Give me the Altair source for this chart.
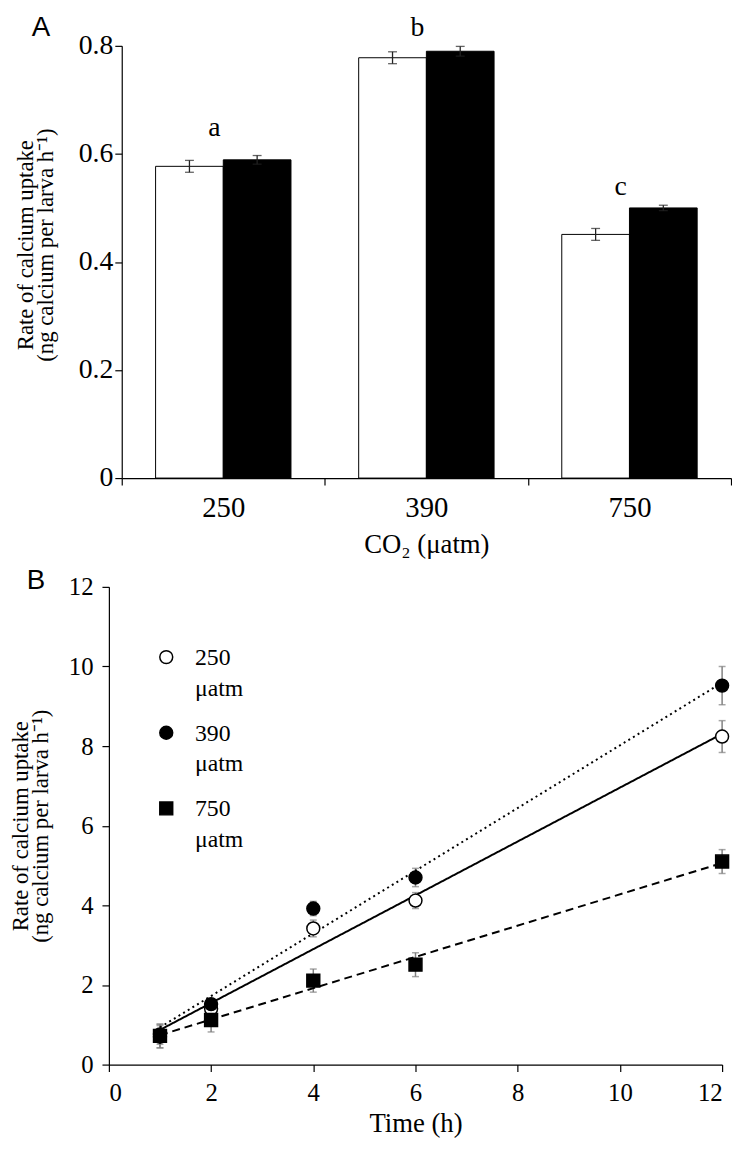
import altair as alt
import pandas as pd

SERIF = "Liberation Serif"
SANS = "Liberation Sans"

# ---------------- Panel A data ----------------
co2_levels = ["250", "390", "750"]
bar_series = ["Open", "Filled"]
uptake_open = [0.577, 0.778, 0.451]
uptake_filled = [0.589, 0.790, 0.500]
sem_open = [0.011, 0.011, 0.011]
sem_filled = [0.008, 0.009, 0.005]
sig_letters = ["a", "b", "c"]
sig_letter_pos = [0.634, 0.818, 0.524]

# ---------------- Panel B data ----------------
times_h = [1, 2, 4, 6, 12]
series_b = ["250", "390", "750"]
legend_labels = ["250\nμatm", "390\nμatm", "750\nμatm"]
rate_250 = [0.70, 1.40, 3.42, 4.12, 8.24]
rate_390 = [0.76, 1.52, 3.92, 4.70, 9.52]
rate_750 = [0.72, 1.12, 2.11, 2.51, 5.10]
err_250 = [0.28, 0.12, 0.21, 0.20, 0.40]
err_390 = [0.25, 0.10, 0.18, 0.23, 0.48]
err_750 = [0.30, 0.30, 0.29, 0.30, 0.30]

rows_a = []
for i, c in enumerate(co2_levels):
    rows_a.append(dict(co2=c, series="Open", value=uptake_open[i],
                       lo=uptake_open[i] - sem_open[i], hi=uptake_open[i] + sem_open[i]))
    rows_a.append(dict(co2=c, series="Filled", value=uptake_filled[i],
                       lo=uptake_filled[i] - sem_filled[i], hi=uptake_filled[i] + sem_filled[i]))
df_a = pd.DataFrame(rows_a)
df_letters = pd.DataFrame({"co2": co2_levels, "letter": sig_letters, "pos": sig_letter_pos})

rows_b = []
for s, vals, errs in [("250", rate_250, err_250), ("390", rate_390, err_390), ("750", rate_750, err_750)]:
    for t, v, e in zip(times_h, vals, errs):
        rows_b.append(dict(time=t, series=s, rate=v, lo=v - e, hi=v + e))
df_b = pd.DataFrame(rows_b)
df_legend = pd.DataFrame({"series": series_b, "label": legend_labels})

ytitle = ["Rate of calcium uptake", "(ng calcium per larva h⁻¹)"]

# ---------------- Panel A ----------------
axis_x_a = alt.Axis(title="CO₂ (μatm)", labelAngle=0, tickBand="extent",
                    labelFont=SERIF, labelFontSize=29, labelColor="black", labelPadding=9,
                    titleFont=SERIF, titleFontSize=27, titleFontWeight="normal", titleColor="black",
                    titlePadding=9, domainColor="black", tickColor="black", tickSize=7,
                    domainWidth=1.2, tickWidth=1.2)
scale_x_a = alt.Scale(range=[13, 629], paddingInner=0, paddingOuter=0)
axis_y_a = alt.Axis(values=[0, 0.2, 0.4, 0.6, 0.8],
                    labelExpr="datum.value == 0 ? '0' : format(datum.value, '.1f')",
                    grid=False, offset=-13, title=ytitle, titleY=201,
                    labelFont=SERIF, labelFontSize=28, labelColor="black", labelPadding=2,
                    titleFont=SERIF, titleFontSize=23, titleFontWeight="normal", titleColor="black",
                    titleLineHeight=20, titlePadding=21,
                    domainColor="black", tickColor="black", tickSize=7, domainWidth=1.2, tickWidth=1.2)
scale_y_a = alt.Scale(domain=[0, 0.8], nice=False)

xa = alt.X("co2:N", sort=co2_levels, scale=scale_x_a, axis=axis_x_a)
xoff = alt.XOffset("series:N", sort=bar_series, scale=alt.Scale(paddingInner=0, paddingOuter=0.5))

def ya(field):
    return alt.Y(field, scale=scale_y_a, axis=axis_y_a)

bars = alt.Chart(df_a).mark_bar(stroke="black", strokeWidth=1).encode(
    x=xa, xOffset=xoff, y=ya("value:Q"),
    fill=alt.Fill("series:N", scale=alt.Scale(domain=bar_series, range=["white", "black"]), legend=None),
)
err_a = alt.Chart(df_a).mark_rule(color="#222222", strokeWidth=1.3).encode(
    x=xa, xOffset=xoff, y=ya("lo:Q"), y2="hi:Q")
cap_lo_a = alt.Chart(df_a).mark_tick(color="#222222", orient="horizontal", size=9, thickness=1.3).encode(
    x=xa, xOffset=xoff, y=ya("lo:Q"))
cap_hi_a = alt.Chart(df_a).mark_tick(color="#222222", orient="horizontal", size=9, thickness=1.3).encode(
    x=xa, xOffset=xoff, y=ya("hi:Q"))
letters = alt.Chart(df_letters).mark_text(font=SERIF, fontSize=28, dx=-9, baseline="alphabetic",
                                          color="black").encode(
    x=xa, y=ya("pos:Q"), text="letter:N")

panel_a = alt.layer(bars, err_a, cap_lo_a, cap_hi_a, letters).properties(
    width=629, height=437,
    title=alt.TitleParams("A", anchor="start", frame="bounds", font=SANS, fontSize=28,
                          fontWeight="normal", color="black", offset=0, dx=17, dy=28),
)

# ---------------- Panel B ----------------
axis_x_b = alt.Axis(values=list(range(0, 13, 2)), title="Time (h)", grid=False,
                    labelFont=SERIF, labelFontSize=25, labelColor="black", labelPadding=9,
                    titleFont=SERIF, titleFontSize=27, titleFontWeight="normal", titleColor="black",
                    titlePadding=6, domainColor="black", tickColor="black", tickSize=7,
                    domainWidth=1.2, tickWidth=1.2)
axis_y_b = alt.Axis(values=list(range(0, 13, 2)), title=ytitle, grid=False,
                    labelFont=SERIF, labelFontSize=25, labelColor="black", labelPadding=9,
                    titleFont=SERIF, titleFontSize=23, titleFontWeight="normal", titleColor="black",
                    titleLineHeight=20, titlePadding=16,
                    domainColor="black", tickColor="black", tickSize=7, domainWidth=1.2, tickWidth=1.2)
scale_b = alt.Scale(domain=[0, 12], nice=False)

xb = alt.X("time:Q", scale=scale_b, axis=axis_x_b)

def yb(field):
    return alt.Y(field, scale=scale_b, axis=axis_y_b)

shape_scale = alt.Scale(domain=series_b, range=["circle", "circle", "square"])
fill_scale = alt.Scale(domain=series_b, range=["white", "black", "black"])

err_b = alt.Chart(df_b).mark_rule(color="#808080", strokeWidth=1.5).encode(
    x=xb, y=yb("lo:Q"), y2="hi:Q")
cap_lo_b = alt.Chart(df_b).mark_tick(color="#808080", orient="horizontal", size=7, thickness=1.5).encode(
    x=xb, y=yb("lo:Q"))
cap_hi_b = alt.Chart(df_b).mark_tick(color="#808080", orient="horizontal", size=7, thickness=1.5).encode(
    x=xb, y=yb("hi:Q"))
fits = alt.Chart(df_b).transform_regression(
    "time", "rate", groupby=["series"], extent=[1, 12]
).transform_calculate(
    fitgroup="datum.series"
).mark_line(color="black", strokeWidth=2).encode(
    x=xb, y=yb("rate:Q"),
    strokeDash=alt.StrokeDash("fitgroup:N",
                              scale=alt.Scale(domain=series_b, range=[[1, 0], [2, 3.5], [8, 5]]),
                              legend=None),
)
points = alt.Chart(df_b).mark_point(filled=True, stroke="black", strokeWidth=1.5, size=170, opacity=1).encode(
    x=xb, y=yb("rate:Q"),
    shape=alt.Shape("series:N", scale=shape_scale, legend=None),
    fill=alt.Fill("series:N", scale=fill_scale, legend=None),
)
data_layer = alt.layer(err_b, cap_lo_b, cap_hi_b, fits, points)

# legend (drawn as marks, keyed by series)
legend_y = alt.Y("series:N", sort=series_b, axis=None,
                 scale=alt.Scale(type="point", range=[71, 224], padding=0))
legend_pts = alt.Chart(df_legend).mark_point(filled=True, stroke="black", strokeWidth=1.5,
                                             size=170, opacity=1).encode(
    x=alt.value(58), y=legend_y,
    shape=alt.Shape("series:N", scale=shape_scale, legend=None),
    fill=alt.Fill("series:N", scale=fill_scale, legend=None),
)
legend_txt = alt.Chart(df_legend).mark_text(font=SERIF, fontSize=24, align="left", baseline="alphabetic",
                                            dy=8, lineBreak="\n", lineHeight=31, color="black").encode(
    x=alt.value(87), y=legend_y, text="label:N")
legend_layer = alt.layer(legend_pts, legend_txt)

panel_b = alt.layer(data_layer, legend_layer).resolve_scale(y="independent").properties(
    width=620, height=483,
    title=alt.TitleParams("B", anchor="start", frame="bounds", font=SANS, fontSize=28,
                          fontWeight="normal", color="black", offset=0, dx=17, dy=20),
)

chart = alt.vconcat(panel_a, panel_b, spacing=10).resolve_scale(
    fill="independent", shape="independent", strokeDash="independent"
).properties(padding={"left": 2, "top": 0, "right": 0, "bottom": 0}).configure_view(stroke=None)

chart.save("out.html", embed_options={"renderer": "svg", "actions": False})
